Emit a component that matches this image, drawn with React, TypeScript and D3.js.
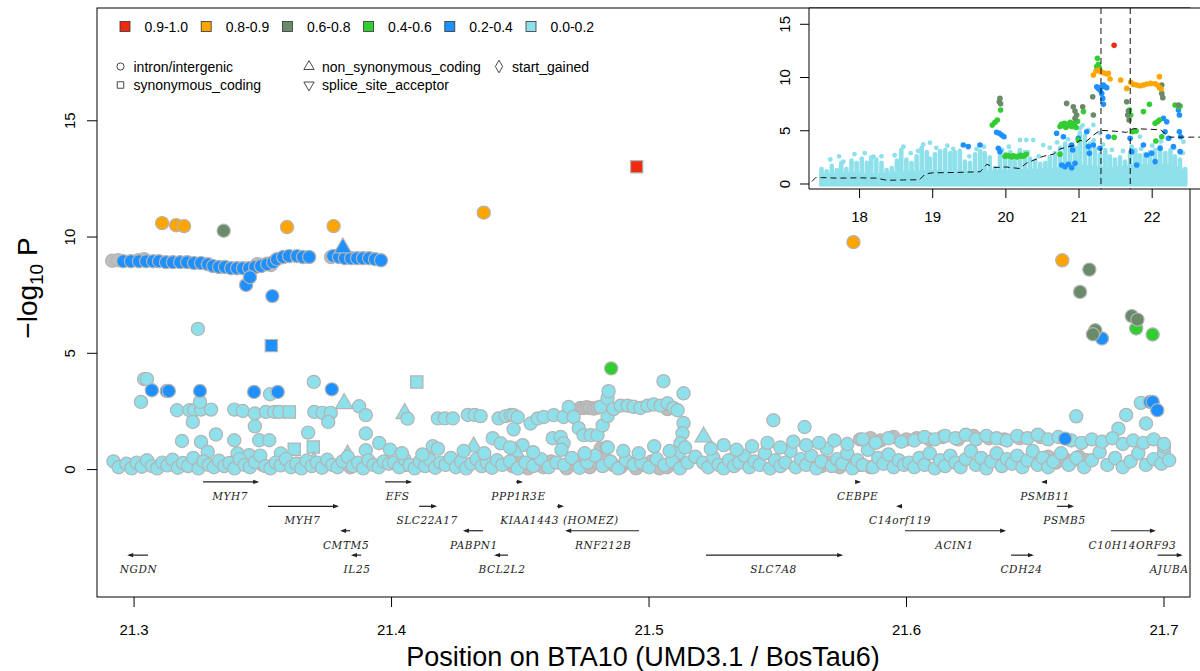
import React from 'react';
import * as d3 from 'd3';

// r2 bins as in the legend (top-left), strongest first
const ldLabels = ['0.9-1.0', '0.8-0.9', '0.6-0.8', '0.4-0.6', '0.2-0.4', '0.0-0.2'];
const ldColors = ['#EE2A10', '#FFA500', '#698B69', '#32CD32', '#1E90FF', '#8EE0EA'];
const naColor = '#BEBEBE';

const effectLabels = ['intron/intergenic', 'synonymous_coding', 'non_synonymous_coding', 'splice_site_acceptor', 'start_gained'];
const effectShapes = ['c', 's', 't', 'v', 'd'];

// main panel: [position Mb, -log10 P, shape]  (shape: s square, t triangle, v down triangle, d diamond)
const mainNA: any[] = [
  [21.2915, 8.98], [21.2938, 9.0], [21.3016, 9.0], [21.3039, 9.05], [21.3478, 8.83], [21.3497, 8.8], [21.3516, 8.85], [21.3532, 8.8], [21.3765, 9.14], [21.379, 9.2],
  [21.35, 0.2], [21.353, 0.1], [21.362, 0.15], [21.384, 0.1],
  [21.4734, 2.65], [21.4746, 2.65], [21.4758, 2.68], [21.477, 2.65], [21.4785, 2.62], [21.48, 2.66], [21.5072, 2.6], [21.4812, 0.9], [21.4835, 0.95],
  [21.447, 0.15], [21.45, 0.3], [21.453, 0.05], [21.456, 0.25], [21.459, 0.1], [21.462, 0.35], [21.468, 0.05], [21.471, 0.25], [21.474, 0.4], [21.477, 0.1],
  [21.48, 0.3], [21.483, 0.45], [21.486, 0.2], [21.489, 0.1], [21.492, 0.3], [21.495, 0.05], [21.498, 0.2], [21.501, 0.35], [21.504, 0.05], [21.507, 0.1], [21.51, 0.25],
  [21.564, 0.25], [21.567, 0.15], [21.57, 0.3], [21.574, 0.1], [21.578, 0.35], [21.582, 0.2], [21.586, 0.1], [21.59, 0.3],
  [21.582, 1.3], [21.586, 1.35], [21.59, 1.25], [21.595, 1.4], [21.6, 1.3],
  [21.604, 1.35], [21.609, 1.3], [21.614, 1.4], [21.62, 1.3], [21.626, 1.45], [21.632, 1.35], [21.638, 1.3], [21.644, 1.35], [21.652, 1.4],
  [21.652, 0.35], [21.655, 0.55], [21.658, 0.3], [21.661, 0.5], [21.664, 0.35], [21.667, 0.55], [21.67, 0.4]
];

const main00: any[] = [
  [21.3248, 6.05],
  [21.3039, 3.89], [21.305, 3.89], [21.3027, 2.91], [21.3528, 3.24], [21.3698, 3.77], [21.4098, 3.77, 's'],
  [21.3167, 2.55], [21.3215, 2.55], [21.3234, 2.55], [21.326, 2.58], [21.3299, 2.58], [21.3256, 2.91], [21.3228, 2.05], [21.3389, 2.58], [21.3422, 2.52],
  [21.3469, 2.41], [21.3469, 1.86], [21.3512, 2.48], [21.3544, 2.48], [21.3564, 2.48], [21.3603, 2.48, 's'], [21.37, 2.48], [21.3732, 2.44], [21.3764, 2.44],
  [21.3754, 2.05], [21.3816, 2.84, 't'], [21.3874, 2.72], [21.39, 2.34], [21.39, 1.55], [21.4051, 2.41, 't'], [21.4062, 2.19],
  [21.3186, 1.23], [21.3318, 1.51], [21.3389, 1.26], [21.326, 1.19], [21.3486, 1.26], [21.3525, 1.26], [21.3676, 1.59], [21.3622, 0.87, 's'], [21.3696, 0.97, 's'],
  [21.39, 0.83], [21.3952, 1.14], [21.3994, 0.86], [21.357, 0.69], [21.3402, 0.69], [21.3447, 0.62], [21.3286, 0.76],
  [21.3648, 0.26, 's'], [21.4036, 0.18, 's'], [21.3698, 0.33, 't'], [21.3829, 0.62, 't'],
  [21.292, 0.35], [21.294, 0.1], [21.297, 0.25], [21.299, 0.05], [21.301, 0.3], [21.303, 0.12], [21.305, 0.4], [21.307, 0.15], [21.309, 0.05], [21.311, 0.3],
  [21.313, 0.18], [21.315, 0.42], [21.317, 0.08], [21.319, 0.28], [21.321, 0.15], [21.323, 0.5], [21.325, 0.05], [21.327, 0.35], [21.329, 0.2], [21.331, 0.1],
  [21.333, 0.38], [21.335, 0.15], [21.337, 0.28], [21.339, 0.05], [21.341, 0.45], [21.343, 0.2], [21.345, 0.1], [21.347, 0.32], [21.349, 0.6], [21.351, 0.15],
  [21.353, 0.05], [21.355, 0.3], [21.357, 0.18], [21.359, 0.45], [21.361, 0.1], [21.363, 0.25], [21.365, 0.05], [21.367, 0.38], [21.369, 0.15], [21.371, 0.3],
  [21.373, 0.08], [21.375, 0.42], [21.377, 0.2], [21.379, 0.1], [21.381, 0.35], [21.383, 0.55], [21.385, 0.15], [21.387, 0.3], [21.389, 0.05], [21.391, 0.4],
  [21.393, 0.2], [21.395, 0.1], [21.397, 0.35], [21.399, 0.25],
  [21.418, 2.2], [21.4207, 2.2], [21.4238, 2.2], [21.4296, 2.35], [21.4323, 2.35], [21.4346, 2.3], [21.4416, 2.2], [21.4443, 2.3], [21.4463, 2.35], [21.4474, 2.34],
  [21.449, 2.25], [21.454, 1.98], [21.4568, 2.2], [21.4591, 2.26], [21.463, 2.34], [21.4668, 2.26], [21.4688, 2.69], [21.4707, 2.26],
  [21.4727, 1.78], [21.4746, 1.48], [21.4773, 1.48], [21.48, 1.48], [21.482, 1.9], [21.4839, 2.3],
  [21.4812, 2.7], [21.4839, 3.07], [21.4862, 2.6], [21.489, 2.75], [21.4917, 2.75], [21.494, 2.7], [21.4967, 2.65], [21.4994, 2.75], [21.5018, 2.8], [21.5045, 2.75],
  [21.5072, 2.85], [21.5095, 2.65], [21.5111, 2.55],
  [21.5134, 2.0], [21.513, 1.56], [21.5122, 1.13], [21.5115, 0.7],
  [21.4393, 1.35], [21.4424, 1.13], [21.4626, 1.35], [21.4657, 1.4], [21.4668, 1.13], [21.416, 1.0], [21.4509, 1.05], [21.4474, 1.73],
  [21.4319, 0.97, 't'], [21.4482, 0.76, 't'], [21.5212, 1.4, 't'],
  [21.4843, 3.37], [21.5056, 3.8], [21.5134, 3.28],
  [21.401, 0.3], [21.403, 0.1], [21.405, 0.45], [21.407, 0.2], [21.409, 0.05], [21.411, 0.35], [21.413, 0.15], [21.415, 0.4], [21.417, 0.08], [21.419, 0.3],
  [21.421, 0.2], [21.423, 0.5], [21.425, 0.1], [21.427, 0.35], [21.429, 0.05], [21.431, 0.25], [21.433, 0.45], [21.435, 0.15], [21.437, 0.3], [21.439, 0.08],
  [21.441, 0.4], [21.443, 0.2], [21.446, 0.35], [21.449, 0.05], [21.452, 0.3], [21.455, 0.15], [21.458, 0.45], [21.461, 0.1], [21.464, 0.3], [21.467, 0.2],
  [21.47, 0.5], [21.473, 0.08], [21.476, 0.3], [21.479, 0.6], [21.482, 0.15], [21.485, 0.35], [21.488, 0.05], [21.491, 0.4], [21.494, 0.2], [21.497, 0.3],
  [21.5, 0.1], [21.503, 0.45], [21.506, 0.2], [21.509, 0.35], [21.512, 0.05], [21.515, 0.3], [21.518, 0.55],
  [21.404, 0.7], [21.412, 0.65], [21.418, 0.9], [21.428, 0.8], [21.436, 0.7], [21.446, 0.95], [21.455, 0.75], [21.466, 0.85], [21.475, 0.7], [21.484, 0.95],
  [21.49, 0.8], [21.496, 0.7], [21.502, 1.0], [21.508, 0.8], [21.514, 0.95],
  [21.5483, 2.12], [21.5604, 1.83],
  [21.521, 0.3], [21.523, 0.1], [21.525, 0.5], [21.527, 0.2], [21.529, 0.05], [21.531, 0.4], [21.533, 0.15], [21.535, 0.3], [21.537, 0.6], [21.539, 0.1],
  [21.541, 0.35], [21.543, 0.2], [21.545, 0.7], [21.547, 0.05], [21.549, 0.4], [21.551, 0.15], [21.553, 0.3], [21.555, 0.8], [21.557, 0.1], [21.559, 0.45],
  [21.561, 0.2], [21.563, 0.6], [21.565, 0.05], [21.567, 0.35], [21.569, 0.9], [21.571, 0.15], [21.573, 0.45], [21.575, 0.25], [21.577, 0.7], [21.579, 0.05],
  [21.581, 0.4], [21.583, 0.2], [21.585, 0.85], [21.587, 0.1], [21.589, 0.5], [21.591, 0.25], [21.593, 0.65], [21.595, 0.1], [21.597, 0.4], [21.599, 0.2],
  [21.524, 0.9], [21.529, 1.05], [21.534, 0.85], [21.54, 1.0], [21.546, 1.15], [21.551, 0.95], [21.556, 1.2], [21.561, 1.05], [21.566, 1.15], [21.572, 1.25],
  [21.577, 1.1], [21.583, 1.3], [21.588, 1.15], [21.593, 1.35], [21.598, 1.2],
  [21.6659, 2.29], [21.6853, 2.35], [21.691, 2.87], [21.6823, 1.76], [21.693, 1.98],
  [21.601, 0.3], [21.603, 0.1], [21.605, 0.5], [21.607, 0.2], [21.609, 0.7], [21.611, 0.05], [21.613, 0.4], [21.615, 0.15], [21.617, 0.6], [21.619, 0.3],
  [21.621, 0.1], [21.623, 0.45], [21.625, 0.8], [21.627, 0.2], [21.629, 0.5], [21.631, 0.05], [21.633, 0.35], [21.635, 0.7], [21.637, 0.15], [21.639, 0.45],
  [21.641, 0.25], [21.643, 0.6], [21.645, 0.1], [21.647, 0.4], [21.649, 0.8], [21.651, 0.2], [21.653, 0.5], [21.655, 0.1], [21.657, 0.35], [21.66, 0.7],
  [21.663, 0.2], [21.666, 0.5], [21.669, 0.1], [21.672, 0.4], [21.675, 0.75], [21.678, 0.2], [21.681, 0.5], [21.684, 0.1], [21.687, 0.35], [21.69, 0.7],
  [21.693, 0.2], [21.696, 0.45], [21.699, 0.25], [21.7, 0.75], [21.7, 1.0], [21.702, 0.4],
  [21.603, 1.25], [21.607, 1.4], [21.611, 1.3], [21.615, 1.45], [21.619, 1.35], [21.623, 1.5], [21.627, 1.3], [21.631, 1.45], [21.635, 1.35], [21.639, 1.25],
  [21.643, 1.45], [21.647, 1.35], [21.651, 1.5], [21.655, 1.3], [21.659, 1.4], [21.664, 1.25], [21.668, 1.15], [21.672, 1.3], [21.676, 1.2], [21.68, 1.35],
  [21.684, 1.1], [21.688, 1.25], [21.692, 1.15], [21.696, 1.3], [21.7, 1.1]
];

const main02: any[] = [
  [21.2958, 8.96], [21.2988, 8.96], [21.3019, 8.96], [21.3047, 8.96], [21.3074, 8.96], [21.3097, 8.96], [21.3124, 8.92], [21.3151, 8.92], [21.3179, 8.92],
  [21.3206, 8.92], [21.3233, 8.88], [21.326, 8.88], [21.3287, 8.83], [21.3307, 8.75], [21.333, 8.71], [21.3353, 8.71], [21.3377, 8.66], [21.34, 8.66],
  [21.3423, 8.66], [21.3447, 8.66], [21.347, 8.71], [21.3493, 8.75], [21.3517, 8.83], [21.354, 8.92], [21.3555, 9.05], [21.3579, 9.14], [21.3602, 9.18],
  [21.3633, 9.18], [21.3656, 9.14], [21.368, 9.14], [21.3773, 9.18], [21.3796, 9.14], [21.3819, 9.09], [21.3843, 9.09], [21.3866, 9.09], [21.3889, 9.09],
  [21.3913, 9.09], [21.3936, 9.05], [21.3959, 9.0],
  [21.3435, 7.94], [21.345, 8.27], [21.3537, 7.46], [21.3533, 5.33, 's'], [21.3811, 9.53, 't'],
  [21.3069, 3.41], [21.3127, 3.38], [21.3135, 3.38], [21.3256, 3.38], [21.3466, 3.34], [21.3558, 3.34], [21.3768, 3.45],
  [21.6759, 5.64], [21.6946, 2.91], [21.6956, 2.91], [21.6974, 2.55], [21.6616, 1.33]
];
const main04: any[] = [[21.4853, 4.35], [21.6892, 6.07], [21.6956, 5.81]];
const main06: any[] = [[21.3348, 10.27], [21.671, 8.6], [21.6674, 7.64], [21.6733, 5.99], [21.6724, 5.82], [21.6875, 6.6], [21.6897, 6.45]];
const main08: any[] = [[21.3109, 10.6], [21.3163, 10.51], [21.3194, 10.47], [21.3594, 10.43], [21.3775, 10.47], [21.4358, 11.05], [21.5794, 9.78], [21.6605, 9.0]];
const main09: any[] = [[21.4952, 13.02, 's']];

// genes: [name, start Mb, end Mb, strand, row]
const genes: any[] = [
  ['MYH7', 21.3268, 21.3478, 1, 0], ['EFS', 21.3975, 21.4072, 1, 0], ['PPP1R3E', 21.4483, 21.4503, 1, 0], ['CEBPE', 21.5804, 21.5816, 1, 0], ['PSMB11', 21.653, 21.6546, -1, 0],
  ['MYH7', 21.352, 21.3788, 1, 1], ['SLC22A17', 21.4107, 21.4169, 1, 1], ['KIAA1443 (HOMEZ)', 21.4643, 21.4662, 1, 1], ['C14orf119', 21.5967, 21.5983, -1, 1], ['PSMB5', 21.6584, 21.6643, 1, 1],
  ['CMTM5', 21.3808, 21.3839, -1, 2], ['PABPN1', 21.4285, 21.4355, -1, 2], ['RNF212B', 21.4682, 21.4961, -1, 2], ['ACIN1', 21.5994, 21.6379, 1, 2], ['C10H14ORF93', 21.6794, 21.6961, 1, 2],
  ['NGDN', 21.2981, 21.3054, -1, 3], ['IL25', 21.385, 21.3882, -1, 3], ['BCL2L2', 21.4406, 21.4452, -1, 3], ['SLC7A8', 21.5221, 21.5746, 1, 3], ['CDH24', 21.6406, 21.6487, 1, 3], ['AJUBA', 21.6975, 21.7065, 1, 3]
];

const mainXTicks = [21.3, 21.4, 21.5, 21.6, 21.7];
const mainYTicks = [0, 5, 10, 15];

// inset: whole region. Dense light cloud: solid floor + stacked columns [position Mb, top]
const insetFloor: any[] = [
  [17.45, 0.9], [17.8, 1.1], [18.2, 1.0], [18.6, 1.2], [19.0, 1.3], [19.4, 1.2], [19.8, 1.3], [20.2, 1.4], [20.6, 1.5], [21.0, 1.8],
  [21.4, 1.6], [21.8, 1.8], [22.2, 1.9], [22.48, 1.2]
];
const insetCloud: any[] = [
  [17.48, 1.4], [17.55, 1.2], [17.62, 1.7], [17.69, 1.3], [17.75, 2.0], [17.82, 1.4], [17.89, 2.2], [17.96, 2.0], [18.03, 2.4], [18.1, 2.0], [18.16, 2.5],
  [18.23, 2.3], [18.3, 2.0], [18.37, 1.3], [18.44, 1.5], [18.51, 2.2], [18.57, 3.2], [18.64, 2.3], [18.71, 2.0], [18.78, 2.6], [18.85, 3.4], [18.92, 3.0],
  [18.96, 2.4], [19.03, 2.8], [19.1, 3.1], [19.17, 3.2], [19.24, 2.9], [19.3, 3.0], [19.37, 2.9], [19.44, 2.1], [19.51, 2.0], [19.58, 2.8], [19.65, 3.1],
  [19.71, 2.9], [19.78, 2.5], [19.85, 1.5], [19.92, 2.6], [19.99, 2.8], [20.06, 3.0], [20.12, 2.6], [20.19, 3.2], [20.26, 3.0], [20.33, 2.4], [20.4, 2.2],
  [20.47, 1.9], [20.54, 2.0], [20.6, 2.5], [20.67, 2.9], [20.74, 3.4], [20.81, 3.8], [20.88, 3.6], [20.95, 3.4], [21.01, 4.8], [21.08, 4.5], [21.15, 3.8],
  [21.22, 3.3], [21.29, 2.8], [21.36, 3.2], [21.42, 2.6], [21.49, 2.3], [21.56, 2.5], [21.63, 2.1], [21.7, 3.0], [21.77, 3.2], [21.83, 2.7], [21.9, 2.8],
  [21.97, 3.0], [22.04, 3.2], [22.11, 3.5], [22.18, 2.9], [22.25, 3.2], [22.31, 2.6], [22.38, 2.3], [22.45, 1.4]
];
const inset00: any[] = [
  [18.87, 3.72], [18.962, 3.88], [20.193, 4.13], [20.28, 4.13], [20.375, 4.13], [19.37, 3.1], [19.6, 3.29], [18.6, 3.5], [18.19, 2.57], [17.78, 2.1],
  [21.014, 5.23], [21.128, 5.07], [21.196, 5.54], [21.834, 4.44], [22.245, 4.29], [22.427, 3.97], [21.287, 4.76], [20.51, 3.66], [20.6, 3.41],
  [17.6, 2.3], [17.72, 2.6], [17.93, 2.8], [18.07, 2.9], [18.3, 2.6], [18.48, 2.7], [18.7, 2.9], [18.8, 3.1], [19.05, 3.4], [19.2, 3.6], [19.28, 3.3],
  [19.5, 2.6], [19.7, 3.5], [19.95, 3.2], [20.04, 3.5], [20.3, 3.0], [20.45, 2.6], [20.7, 3.9], [20.85, 4.2], [21.05, 5.5], [21.2, 4.1], [21.33, 3.7],
  [21.45, 3.2], [21.6, 3.1], [21.72, 3.5], [21.85, 3.3], [22.0, 3.6], [22.12, 4.0], [22.3, 3.4], [22.42, 2.9]
];
const inset02: any[] = [
  [21.242, 9.14], [21.264, 8.98], [21.287, 8.83], [21.31, 9.14], [21.333, 9.3], [21.356, 9.14], [21.378, 9.05], [21.324, 8.04], [21.333, 7.48], [21.31, 8.51],
  [19.874, 4.85], [19.91, 4.76], [19.942, 4.6], [19.974, 4.44], [19.897, 3.35], [19.919, 3.04], [19.418, 3.66], [19.486, 3.51], [19.646, 3.66],
  [20.694, 4.76], [20.786, 4.44], [20.763, 1.78], [20.808, 1.63], [20.854, 1.85], [20.9, 1.53], [20.945, 1.94], [20.9, 3.66], [20.913, 3.19], [20.991, 4.29],
  [21.105, 4.91], [21.128, 3.51], [21.141, 2.88], [21.196, 3.66], [21.287, 3.35], [21.401, 4.44], [21.698, 4.29], [21.72, 3.04], [21.789, 1.78], [21.88, 3.66],
  [21.926, 2.72], [22.04, 2.1], [22.154, 6.17], [22.176, 4.91], [22.199, 5.85], [22.222, 4.29], [22.29, 3.51], [22.359, 6.95], [22.372, 6.48], [22.372, 4.91],
  [22.382, 3.04], [22.39, 4.44], [22.108, 3.35], [21.994, 2.88]
];
const inset04: any[] = [
  [21.251, 11.8], [21.264, 11.24], [21.278, 10.92], [21.242, 11.02], [19.814, 5.54], [19.851, 5.79], [19.883, 6.01], [19.928, 6.95],
  [19.988, 2.6], [20.01, 2.7], [20.03, 2.65], [20.06, 2.6], [20.08, 2.55], [20.1, 2.65], [20.12, 2.6], [20.15, 2.55], [20.17, 2.6], [20.2, 2.7], [20.22, 2.6],
  [20.25, 2.65], [20.28, 2.8],
  [20.74, 5.4], [20.76, 5.6], [20.78, 5.5], [20.8, 5.7], [20.82, 5.3], [20.84, 5.6], [20.86, 5.5], [20.88, 5.8], [20.9, 5.4], [20.92, 5.6], [20.94, 5.7],
  [20.96, 5.3], [20.98, 5.9], [21.06, 6.8], [21.48, 4.38], [21.69, 6.95], [21.707, 6.48], [21.734, 4.91], [21.78, 4.98], [21.88, 6.8], [21.962, 7.48],
  [22.04, 5.7], [22.072, 5.85], [22.1, 6.0], [22.049, 4.04], [22.131, 4.44], [22.313, 7.42], [22.359, 7.26], [22.382, 7.32], [20.74, 2.79], [20.99, 4.13]
];
const inset06: any[] = [
  [19.919, 8.04], [19.91, 7.73], [19.928, 7.54], [20.831, 7.57], [20.922, 7.26], [20.945, 6.85], [20.968, 6.48], [20.945, 6.17], [21.05, 7.26], [21.187, 8.2],
  [21.196, 6.48], [21.652, 7.73], [21.675, 6.85], [21.666, 6.48], [21.684, 6.01], [22.131, 9.3], [22.131, 8.51], [22.145, 8.11], [22.359, 7.42]
];
const inset08: any[] = [
  [21.196, 10.23], [21.233, 10.61], [21.264, 10.7], [21.296, 10.55], [21.333, 10.45], [21.378, 10.33], [21.401, 10.39], [21.424, 9.86], [21.57, 9.77],
  [21.652, 8.98], [21.707, 9.55], [21.743, 9.36], [21.789, 9.3], [21.834, 9.23], [21.88, 9.3], [21.926, 9.39], [21.98, 9.45], [22.04, 9.42], [22.072, 9.3],
  [22.099, 9.05], [22.122, 8.92], [22.099, 10.08]
];
const inset09: any[] = [[21.48, 13.02]];

// genome-wide threshold (dashed) across the inset
const insetThreshold: any[] = [
  [17.35, 0.25], [17.4, 0.6], [17.48, 0.6], [17.7, 0.55], [18.0, 0.58], [18.23, 0.55], [18.37, 0.35], [18.6, 0.38], [18.82, 0.4], [18.9, 0.95], [19.0, 1.05],
  [19.3, 1.08], [19.65, 1.15], [19.74, 1.85], [19.85, 1.55], [20.0, 1.6], [20.19, 1.45], [20.28, 1.95], [20.51, 2.6], [20.65, 2.8], [20.74, 3.3], [20.92, 3.6],
  [21.01, 4.1], [21.1, 4.0], [21.2, 4.6], [21.29, 5.05], [21.5, 4.95], [21.65, 4.85], [21.74, 5.2], [22.11, 5.1], [22.24, 4.4], [22.7, 4.4]
];
const insetWindow = [21.3, 21.7];
const insetXTicks = [18, 19, 20, 21, 22];
const insetYTicks = [0, 5, 10, 15];

const sans = 'Liberation Sans, Arial, Helvetica, sans-serif';

function symPath(code: string, area: number) {
  const t = code === 's' ? d3.symbolSquare : code === 'd' ? d3.symbolDiamond : d3.symbolTriangle;
  return d3.symbol().type(t).size(area)() as string;
}

export default function App() {
  // plot region of the main panel
  const x = d3.scaleLinear().domain([21.2856, 21.7101]).range([97, 1190]);
  const y = d3.scaleLinear().domain([-5.48, 19.85]).range([597, 8]);
  // inset, sitting over the top-right corner
  const ix = d3.scaleLinear().domain([17.309, 22.64]).range([809, 1199]);
  const iy = d3.scaleLinear().domain([-0.47, 16.53]).range([189, 8]);

  const mainLayers = [
    { pts: mainNA, fill: naColor },
    { pts: main00, fill: ldColors[5] },
    { pts: main02, fill: ldColors[4] },
    { pts: main04, fill: ldColors[3] },
    { pts: main06, fill: ldColors[2] },
    { pts: main08, fill: ldColors[1] },
    { pts: main09, fill: ldColors[0] }
  ];
  const insetLayers = [
    { pts: inset00, fill: ldColors[5], r: 2.4 },
    { pts: inset02, fill: ldColors[4], r: 2.8 },
    { pts: inset04, fill: ldColors[3], r: 2.8 },
    { pts: inset06, fill: ldColors[2], r: 2.8 },
    { pts: inset08, fill: ldColors[1], r: 2.8 },
    { pts: inset09, fill: ldColors[0], r: 2.8 }
  ];

  const thrLine = d3.line<any>().x(d => ix(d[0])).y(d => iy(d[1]));
  const floorArea = d3.area<any>().x(d => ix(d[0])).y0(iy(0) + 2.5).y1(d => iy(d[1])).curve(d3.curveMonotoneX);

  const rowY = (r: number) => -0.53 - 1.05 * r;

  return (
    <div style={{ position: 'absolute', left: 0, top: 0 }}>
      <svg width={1200} height={671} style={{ display: 'block', background: '#fff' }}>
        <defs>
          <clipPath id="mainclip"><rect x={97} y={8} width={1093} height={589} /></clipPath>
          <clipPath id="insetclip"><rect x={809} y={8} width={391} height={181} /></clipPath>
        </defs>

        <g clipPath="url(#mainclip)">
          {mainLayers.map((L, li) => (
            <g key={li} fill={L.fill} stroke="#B4B4B4" strokeWidth={1.2}>
              {L.pts.map((p: any, i: number) =>
                p[2] ? (
                  <path key={i} d={symPath(p[2], p[2] === 's' ? 150 : 130)}
                    transform={`translate(${x(p[0])},${y(p[1])})${p[2] === 'v' ? ' rotate(180)' : ''}`} />
                ) : (
                  <circle key={i} cx={x(p[0])} cy={y(p[1])} r={6.6} />
                )
              )}
            </g>
          ))}
        </g>

        {genes.map((g: any, i: number) => {
          const x0 = x(g[1]), x1 = x(g[2]);
          const yy = y(rowY(g[4]));
          const tip = g[3] > 0 ? x1 : x0;
          const dir = g[3] > 0 ? 1 : -1;
          return (
            <g key={i}>
              <line x1={x0} x2={x1} y1={yy} y2={yy} stroke="#222" strokeWidth={1.2} />
              <path d={`M${tip + dir * 2},${yy} L${tip - dir * 4},${yy - 2.2} L${tip - dir * 4},${yy + 2.2} Z`} fill="#222" />
              <text x={(x0 + x1) / 2} y={y(rowY(g[4]) - 0.77)} textAnchor="middle"
                fontFamily="DejaVu Serif, serif" fontStyle="italic" fontSize={10.5} letterSpacing={0.6} fill="#222">{g[0]}</text>
            </g>
          );
        })}

        {/* main frame and axes */}
        <rect x={97} y={8} width={1093} height={589} fill="none" stroke="#000" strokeWidth={1} />
        {mainXTicks.map(t => (
          <g key={t}>
            <line x1={x(t)} x2={x(t)} y1={597} y2={607} stroke="#000" />
            <text x={x(t)} y={635} textAnchor="middle" fontFamily={sans} fontSize={15}>{t}</text>
          </g>
        ))}
        {mainYTicks.map(t => (
          <g key={t}>
            <line x1={87} x2={97} y1={y(t)} y2={y(t)} stroke="#000" />
            <text transform={`translate(75,${y(t)}) rotate(-90)`} textAnchor="middle" fontFamily={sans} fontSize={15}>{t}</text>
          </g>
        ))}
        <text x={643} y={666} textAnchor="middle" fontFamily={sans} fontSize={27}>Position on BTA10 (UMD3.1 / BosTau6)</text>
        <text transform="translate(37,288) rotate(-90)" textAnchor="middle" fontFamily={sans} fontSize={28}>
          −log<tspan fontSize={19} dy={6}>10</tspan><tspan dy={-6}> P</tspan>
        </text>

        {/* inset */}
        <rect x={809} y={8} width={391} height={181} fill="#fff" />
        <g clipPath="url(#insetclip)">
          <path d={floorArea(insetFloor) as string} fill={ldColors[5]} />
          {insetCloud.map((c: any, i: number) => (
            <rect key={i} x={ix(c[0]) - 2.3} width={4.6} y={iy(c[1]) - 2.3} height={iy(0) - iy(c[1]) + 4.6} rx={2.3} fill={ldColors[5]} />
          ))}
          {insetLayers.map((L, li) => (
            <g key={li} fill={L.fill}>
              {L.pts.map((p: any, i: number) => <circle key={i} cx={ix(p[0])} cy={iy(p[1])} r={L.r} />)}
            </g>
          ))}
          <path d={thrLine(insetThreshold) as string} fill="none" stroke="#111" strokeWidth={1} strokeDasharray="6,4" />
          {insetWindow.map((w, i) => (
            <line key={i} x1={ix(w)} x2={ix(w)} y1={8} y2={189} stroke="#111" strokeWidth={1} strokeDasharray="6,4" />
          ))}
        </g>
        <line x1={809} x2={809} y1={8} y2={189} stroke="#000" />
        <line x1={809} x2={1200} y1={189} y2={189} stroke="#000" />
        <line x1={809} x2={1200} y1={8} y2={8} stroke="#000" />
        {insetXTicks.map(t => (
          <g key={t}>
            <line x1={ix(t)} x2={ix(t)} y1={189} y2={198} stroke="#000" />
            <text x={ix(t)} y={222} textAnchor="middle" fontFamily={sans} fontSize={15}>{t}</text>
          </g>
        ))}
        {insetYTicks.map(t => (
          <g key={t}>
            <line x1={800} x2={809} y1={iy(t)} y2={iy(t)} stroke="#000" />
            <text transform={`translate(790,${iy(t)}) rotate(-90)`} textAnchor="middle" fontFamily={sans} fontSize={15}>{t}</text>
          </g>
        ))}

        {/* legend: r2 colours */}
        {ldLabels.map((l, i) => (
          <g key={l}>
            <rect x={120 + 81.2 * i} y={21.5} width={10} height={10} fill={ldColors[i]} stroke="#333" strokeWidth={0.8} />
            <text x={144.5 + 81.2 * i} y={31.5} fontFamily={sans} fontSize={14}>{l}</text>
          </g>
        ))}
        {/* legend: variant effect shapes */}
        {effectLabels.map((l, i) => {
          const cx = i < 2 ? 120.5 : i < 4 ? 309 : 499;
          const cy = i === 1 || i === 3 ? 85 : 66.5;
          const s = effectShapes[i];
          return (
            <g key={l}>
              {s === 'c' ? (
                <circle cx={cx} cy={cy} r={3.6} fill="none" stroke="#333" strokeWidth={0.9} />
              ) : (
                <path d={symPath(s, s === 's' ? 42 : 46)} transform={`translate(${cx},${cy})${s === 'v' ? ' rotate(180)' : ''}`}
                  fill="none" stroke="#333" strokeWidth={0.9} />
              )}
              <text x={cx + 13} y={cy + 5} fontFamily={sans} fontSize={14}>{l}</text>
            </g>
          );
        })}
      </svg>
    </div>
  );
}
